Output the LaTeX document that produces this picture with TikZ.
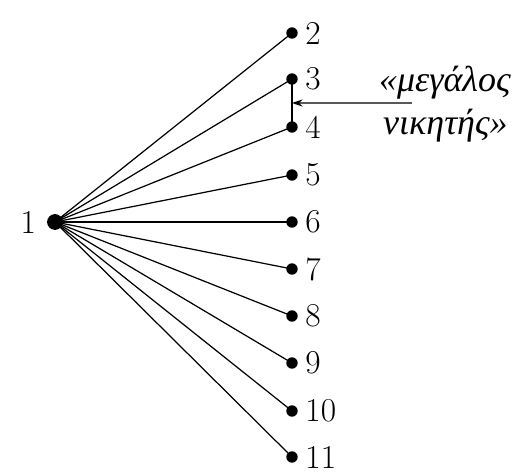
\documentclass[tikz,border=0pt]{standalone}
\usepackage{fontspec}
\usepackage{tikz}
\usetikzlibrary{arrows.meta,calc,positioning}
\newfontfamily\greekfont{Liberation Serif}
\tikzset{
  edge/.style={black, line width=0.7pt},
  leaf/.style={circle, fill=black, inner sep=0pt, minimum size=6.5pt},
  root/.style={circle, fill=black, inner sep=0pt, minimum size=9pt},
  num/.style={font=\fontsize{19}{21}\selectfont, inner sep=0pt},
  quote/.style={font=\greekfont\itshape\fontsize{20.5}{22}\selectfont, inner sep=0pt, anchor=east},
  pointer/.style={-{Stealth[length=6pt,width=4pt]}, line width=0.7pt},
}
\begin{document}
\begin{tikzpicture}[x=0.02cm,y=-0.02cm]
  \path[use as bounding box] (0,0) rectangle (512,476);

  \node[root] (v1) at (55,222) {};
  \node[num, left=6pt of v1] (l1) {1};

  \foreach \n/\y in {2/33, 3/79, 4/127, 5/175, 6/222,
                     7/269, 8/316, 9/363, 10/411, 11/457}
    {\node[leaf] (v\n) at (292,\y) {};
     \node[num, anchor=west] (l\n) at ([xshift=4pt]v\n.east) {\n};
     \draw[edge] (v1.center) -- (v\n.center);}

  % the tie between 3 and 4
  \draw[edge] (v3.center) -- (v4.center);
  \coordinate (mid) at ($(v3)!0.5!(v4)$);
  \coordinate (tail) at (412,103);
  \draw[pointer] (tail) -- (mid);

  \node[quote] (q1) at (511,83) {«μεγάλος};
  \node[quote] (q2) at (508,126) {νικητής»};
\end{tikzpicture}
\end{document}
